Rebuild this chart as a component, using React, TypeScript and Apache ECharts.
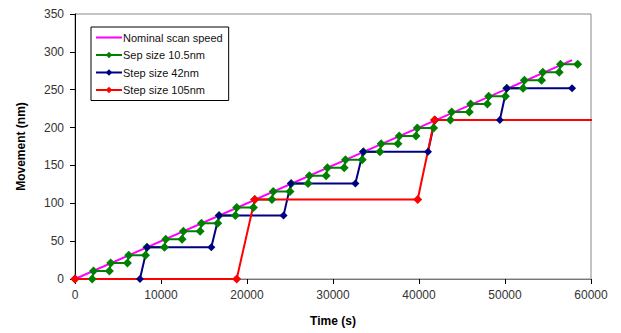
import React, { useEffect, useRef } from "react";
import * as echarts from "echarts";

const nominal: [number, number][] = [
  [0, 0],
  [57800, 289],
];

const sep10_5: [number, number][] = [
  [0, 0],
  [2000, 0], [2150, 10.5],
  [4000, 10.5], [4150, 21],
  [6100, 21], [6250, 31.5],
  [8200, 31.5], [8350, 42],
  [10400, 42], [10550, 52.5],
  [12450, 52.5], [12600, 63],
  [14550, 63], [14700, 73.5],
  [16600, 73.5], [16750, 84],
  [18650, 84], [18800, 94.5],
  [20750, 94.5], [20900, 105],
  [22900, 105], [23050, 115.5],
  [25000, 115.5], [25150, 126],
  [27100, 126], [27250, 136.5],
  [29200, 136.5], [29350, 147],
  [31300, 147], [31450, 157.5],
  [33400, 157.5], [33550, 168],
  [35450, 168], [35600, 178.5],
  [37550, 178.5], [37700, 189],
  [39650, 189], [39800, 199.5],
  [41700, 199.5], [41850, 210],
  [43650, 210], [43800, 220.5],
  [45850, 220.5], [46000, 231],
  [47950, 231], [48100, 241.5],
  [50050, 241.5], [50200, 252],
  [52100, 252], [52250, 262.5],
  [54250, 262.5], [54400, 273],
  [56300, 273], [56450, 283.5],
  [58450, 283.5],
];

const step42: [number, number][] = [
  [0, 0],
  [7550, 0], [8400, 42],
  [15850, 42], [16750, 84],
  [24250, 84], [25100, 126],
  [32600, 126], [33500, 168],
  [41050, 168], [41850, 210],
  [49400, 210], [50200, 252],
  [57800, 252],
];

const step105: [number, number][] = [
  [0, 0],
  [18800, 0], [20900, 105],
  [39850, 105], [41800, 210],
];
const step105Tail: [number, number] = [60600, 210];

const seriesNames = [
  "Nominal scan speed",
  "Sep size 10.5nm",
  "Step size 42nm",
  "Step size 105nm",
];
const colors = ["#FF00FF", "#008000", "#000080", "#FF0000"];

export default function App() {
  const ref = useRef<HTMLDivElement>(null);
  useEffect(() => {
    if (!ref.current) return;
    const chart = echarts.init(ref.current, undefined, { renderer: "svg" });
    const font = "'Liberation Sans', Arial, sans-serif";
    chart.setOption({
      animation: false,
      textStyle: { fontFamily: font },
      grid: {
        left: 75,
        right: 30,
        top: 14,
        bottom: 54,
        show: true,
        borderColor: "#888",
        borderWidth: 1,
      },
      legend: {
        orient: "vertical",
        left: 91,
        top: 27,
        padding: [5, 6, 5, 4],
        itemGap: 6.5,
        itemWidth: 26,
        itemHeight: 8,
        borderColor: "#000",
        borderWidth: 1,
        backgroundColor: "#fff",
        data: [
          { name: seriesNames[0], icon: "path://M0,0 L26,0 L26,2 L0,2 Z" },
          seriesNames[1],
          seriesNames[2],
          seriesNames[3],
        ],
        textStyle: { fontSize: 11, color: "#111", fontFamily: font, padding: [0, 0, 0, -4] },
      },
      xAxis: {
        type: "value",
        min: 0,
        max: 60000,
        interval: 10000,
        name: "Time (s)",
        nameLocation: "middle",
        nameGap: 36,
        nameTextStyle: { fontSize: 12, fontWeight: "bold", color: "#000", fontFamily: font },
        axisLine: { lineStyle: { color: "#777", width: 1 } },
        axisTick: { show: true, length: 5, lineStyle: { color: "#000" } },
        axisLabel: {
          fontSize: 12,
          color: "#333",
          margin: 10,
          fontFamily: font,
          formatter: (v: number) => String(v),
        },
        splitLine: { show: false },
      },
      yAxis: {
        type: "value",
        min: 0,
        max: 350,
        interval: 50,
        name: "Movement (nm)",
        nameLocation: "middle",
        nameGap: 48,
        nameTextStyle: { fontSize: 12, fontWeight: "bold", color: "#000", fontFamily: font },
        axisLine: { show: true, lineStyle: { color: "#000", width: 1 } },
        axisTick: { show: true, length: 5, lineStyle: { color: "#000" } },
        axisLabel: { fontSize: 12, color: "#333", margin: 11, fontFamily: font },
        splitLine: { show: false },
      },
      series: [
        {
          name: seriesNames[0],
          type: "line",
          data: nominal,
          symbol: "none",
          lineStyle: { color: colors[0], width: 2 },
          itemStyle: { color: colors[0] },
        },
        {
          name: seriesNames[1],
          type: "line",
          data: sep10_5,
          symbol: "diamond",
          symbolSize: 9,
          lineStyle: { color: colors[1], width: 2 },
          itemStyle: { color: colors[1] },
        },
        {
          name: seriesNames[2],
          type: "line",
          data: step42,
          symbol: "diamond",
          symbolSize: 8,
          lineStyle: { color: colors[2], width: 2 },
          itemStyle: { color: colors[2] },
        },
        {
          name: seriesNames[3],
          type: "line",
          clip: false,
          data: [...step105, { value: step105Tail, symbol: "none" }],
          symbol: "diamond",
          symbolSize: 9,
          lineStyle: { color: colors[3], width: 2 },
          itemStyle: { color: colors[3] },
        },
      ],
    });
    return () => chart.dispose();
  }, []);
  return <div ref={ref} style={{ width: 621, height: 333, position: "absolute", left: 0, top: 0 }} />;
}
